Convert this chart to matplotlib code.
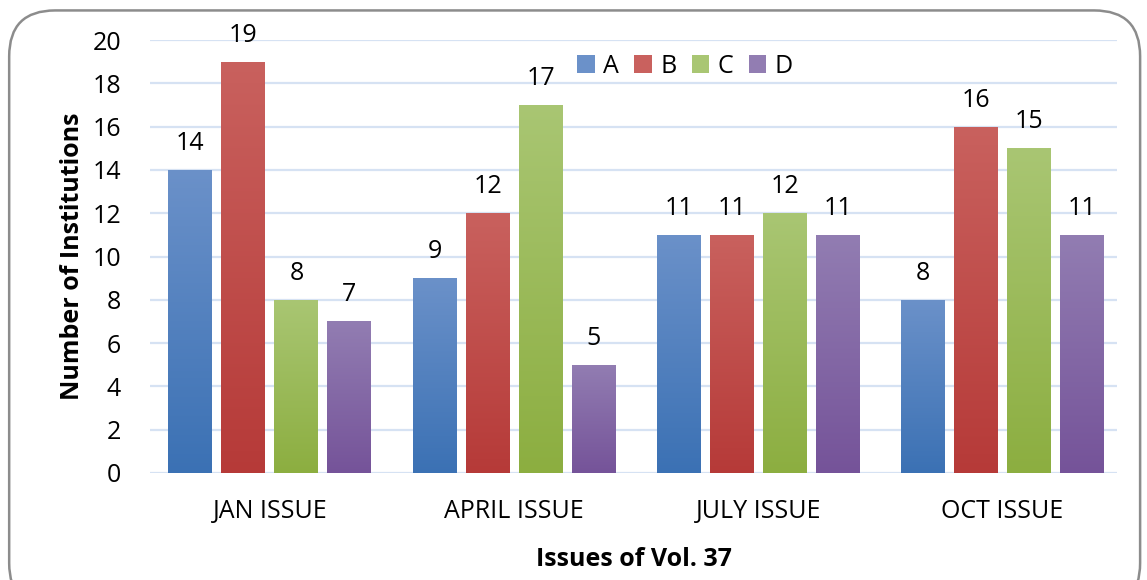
import numpy as np
import matplotlib
matplotlib.use('Agg')
import matplotlib.pyplot as plt
from matplotlib.patches import FancyBboxPatch
from matplotlib.colors import LinearSegmentedColormap

# data
issues = ["JAN ISSUE", "APRIL ISSUE", "JULY ISSUE", "OCT ISSUE"]
series = ["A", "B", "C", "D"]
a_vals = [14, 9, 11, 8]
b_vals = [19, 12, 11, 16]
c_vals = [8, 17, 12, 15]
d_vals = [7, 5, 11, 11]

# (top colour, bottom colour) for each series gradient
grads = [("#6b91c9", "#3b71b4"), ("#c9615e", "#b63a38"),
         ("#a9c673", "#8cae40"), ("#927db2", "#755399")]

plt.rcParams['font.family'] = ['Open Sans', 'DejaVu Sans']
FS = 18

fig = plt.figure(figsize=(11.47, 5.8), dpi=100)
ax = fig.add_axes([0.131, 0.1845, 0.843, 0.7465])

# rounded frame round the chart
frame = FancyBboxPatch((0.008, -0.05), 0.986, 1.032, transform=fig.transFigure,
                       boxstyle="round,pad=0,rounding_size=0.04",
                       facecolor="none", edgecolor="#8c8c8c", linewidth=1.8,
                       mutation_aspect=1147 / 580)
fig.patches.append(frame)

x = np.arange(len(issues))
width = 0.18
step = 0.217
grad = np.linspace(1, 0, 256).reshape(-1, 1)

for i, vals in enumerate([a_vals, b_vals, c_vals, d_vals]):
    top, bot = grads[i]
    cmap = LinearSegmentedColormap.from_list("g%d" % i, [bot, top])
    pos = x + (i - 1.5) * step
    bars = ax.bar(pos, vals, width, color=top, label=series[i], zorder=2)
    for b, v in zip(bars, vals):
        b.set_facecolor("none")
        b.set_edgecolor("none")
        im = ax.imshow(grad, cmap=cmap, aspect="auto", zorder=2,
                       extent=[b.get_x(), b.get_x() + b.get_width(), 0, v])
        im.set_clip_path(b)
        ax.text(b.get_x() + b.get_width() / 2, v + 0.65, str(v),
                ha="center", va="bottom", fontsize=FS)

ax.set_xlim(-0.49, 3.47)
ax.set_ylim(0, 20)
ax.set_yticks(range(0, 21, 2))
ax.set_xticks(x)
ax.set_xticklabels(issues)
ax.tick_params(axis="both", length=0, labelsize=FS)
ax.tick_params(axis="y", pad=21)
ax.tick_params(axis="x", pad=19)
ax.grid(axis="y", color="#d6e2f3", linewidth=1.6, zorder=0)
ax.set_axisbelow(True)
for s in ax.spines.values():
    s.set_visible(False)

ax.set_ylabel("Number of Institutions", fontsize=FS, fontweight="bold", labelpad=5)
ax.set_xlabel("Issues of Vol. 37", fontsize=FS, fontweight="bold", labelpad=16)

handles = [plt.Rectangle((0, 0), 1, 1, facecolor=g[0]) for g in grads]
ax.legend(handles, series, loc="upper center", bbox_to_anchor=(0.553, 1.02),
          ncol=4, frameon=False, fontsize=FS, handlelength=0.7, handleheight=0.7,
          columnspacing=0.6, handletextpad=0.35)

fig.savefig("out.png", dpi=100)
